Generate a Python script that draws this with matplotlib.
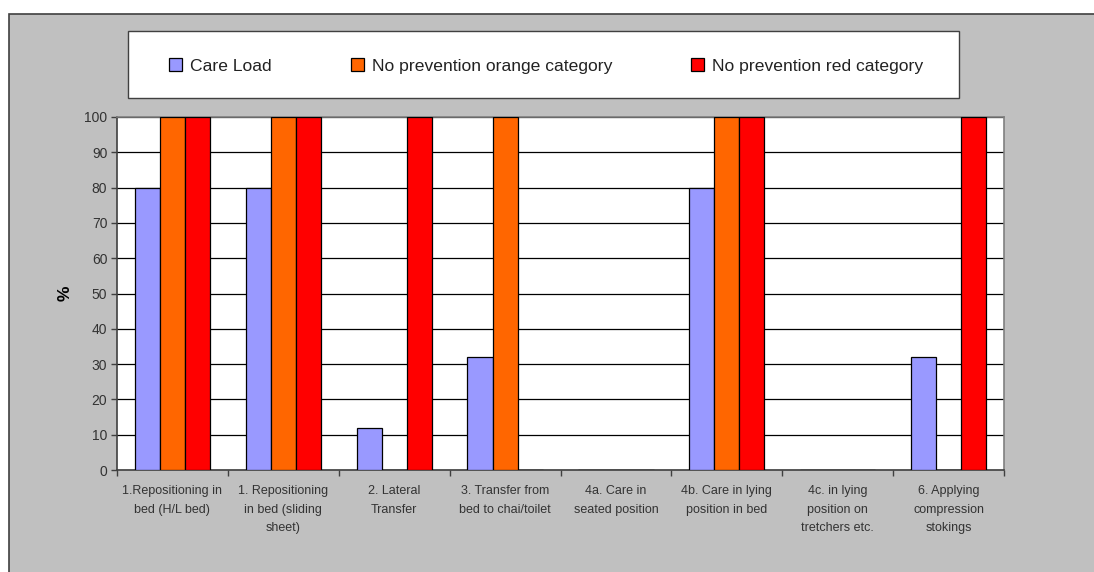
import numpy as np
import matplotlib.pyplot as plt
from matplotlib.patches import Rectangle

plt.rcParams['font.family'] = ['Liberation Sans', 'DejaVu Sans']

categories = ['1.Repositioning in\nbed (H/L bed)',
              '1. Repositioning\nin bed (sliding\nsheet)',
              '2. Lateral\nTransfer',
              '3. Transfer from\nbed to chai/toilet',
              '4a. Care in\nseated position',
              '4b. Care in lying\nposition in bed',
              '4c. in lying\nposition on\ntretchers etc.',
              '6. Applying\ncompression\nstokings']
care_load = [80, 80, 12, 32, 0, 80, 0, 32]
orange_cat = [100, 100, 0, 100, 0, 100, 0, 0]
red_cat = [100, 100, 100, 0, 0, 100, 0, 100]
series_names = ['Care Load', 'No prevention orange category', 'No prevention red category']
colors = ['#9999FF', '#FF6600', '#FF0000']

fig = plt.figure(figsize=(10.94, 5.72), dpi=100, facecolor='white')

# grey chart area with dark border
fig.patches.append(Rectangle((9 / 1094, -0.01), 1.02, 1 - 14 / 572 + 0.01,
                             transform=fig.transFigure, facecolor='#C0C0C0',
                             edgecolor='#404040', linewidth=1.2, zorder=-2))

ax = fig.add_axes([117 / 1094, 1 - 470 / 572, (1004 - 117) / 1094, (470 - 117) / 572])
ax.set_zorder(2)
ax.set_facecolor('white')

x = np.arange(len(categories))
w = 0.226
for i, (vals, name, c) in enumerate(zip([care_load, orange_cat, red_cat], series_names, colors)):
    ax.bar(x + (i - 1) * w, vals, w, color=c, edgecolor='black', linewidth=0.9,
           label=name, zorder=3)

ax.set_xlim(-0.5, len(categories) - 0.5)
ax.set_ylim(0, 100)
ax.set_yticks(np.arange(0, 101, 10))
ax.yaxis.grid(True, color='black', linewidth=0.9, zorder=1)
ax.tick_params(axis='y', labelsize=10, length=4, width=1, color='#404040',
               labelcolor='#333333', pad=3)

ax.set_xticks(x)
ax.set_xticklabels(categories, fontsize=9, color='#333333', linespacing=1.7, va='top')
ax.tick_params(axis='x', which='major', length=0, pad=11)
ax.set_xticks(np.arange(-0.5, len(categories), 1), minor=True)
ax.tick_params(axis='x', which='minor', length=4, width=1, color='#404040')

for side in ['left', 'bottom']:
    ax.spines[side].set_color('#404040')
    ax.spines[side].set_linewidth(1.2)
for side in ['top', 'right']:
    ax.spines[side].set_color('#808080')
    ax.spines[side].set_linewidth(1.2)

ax.set_ylabel('%', fontsize=12.5, fontweight='bold', labelpad=8)

# legend box
fig.patches.append(Rectangle((128 / 1094, 1 - 98 / 572), (959 - 128) / 1094, 67 / 572,
                             transform=fig.transFigure, facecolor='white',
                             edgecolor='#404040', linewidth=1, zorder=-1))
handles, labels = ax.get_legend_handles_labels()
leg = fig.legend(handles, labels, loc='center', ncol=3,
                 bbox_to_anchor=(546 / 1094, 1 - 66 / 572), frameon=False,
                 fontsize=12.6, handlelength=0.75, handleheight=0.75,
                 handletextpad=0.45, columnspacing=4.5)
for t in leg.get_texts():
    t.set_color('#222222')

fig.savefig('out.png', dpi=100, facecolor='white')
